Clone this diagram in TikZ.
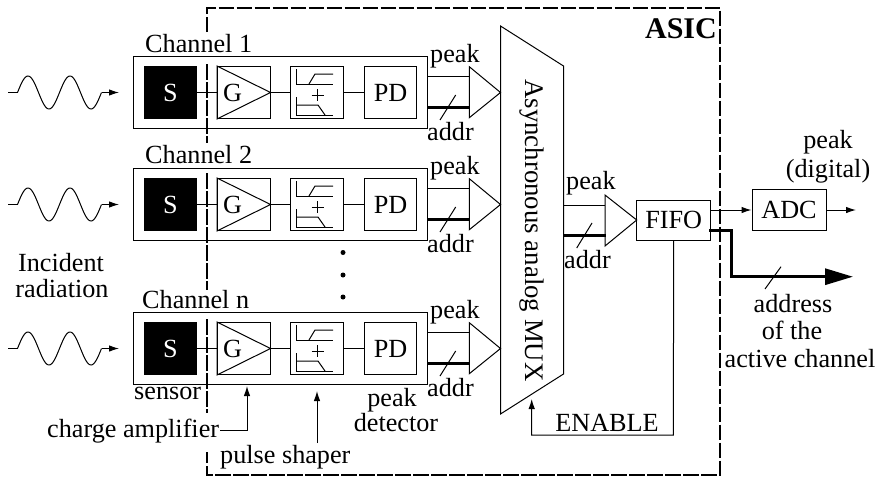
\documentclass[tikz,border=0pt]{standalone}
\usepackage{fontspec}
\setmainfont{Liberation Serif}
\usetikzlibrary{arrows.meta}
\tikzset{
  ln/.style={line width=1pt,black},
  thick line/.style={line width=3pt,black},
  dashline/.style={line width=2pt,dash pattern=on 15.5pt off 2.5pt},
  blockbox/.style={draw,line width=1pt,inner sep=0pt,minimum width=52.5pt,minimum height=52pt},
  sensorbox/.style={blockbox,fill=black,text=white},
  chanbox/.style={draw,line width=1pt,inner sep=0pt,minimum width=293.5pt,minimum height=71.5pt},
  lbl/.style={inner sep=0pt,font=\fontsize{26.2}{30}\selectfont},
  hd/.style={-{Latex[length=10pt,width=6.5pt]}},
  every node/.append style={font=\fontsize{26.2}{30}\selectfont}
}
\begin{document}
\begin{tikzpicture}[x=1pt,y=-1pt]
\useasboundingbox (0,0) rectangle (880,477);
% ASIC boundary
\draw[dashline] (206.5,32) -- (206.5,8) -- (720,8) -- (720,475) -- (206.5,475) -- (206.5,452);
\draw[dashline] (206.5,64) -- (206.5,143);
\draw[dashline] (206.5,173) -- (206.5,290);
\draw[dashline] (206.5,319) -- (206.5,413);
\node[lbl,anchor=base east,font=\fontsize{30}{34}\selectfont\bfseries] (asic) at (717,38) {ASIC};
% channels
\foreach \n/\cy/\txt/\tx/\ty in {1/92.5/Channel 1/145/52, 2/204.5/Channel 2/145/163, 3/348.5/Channel n/142/308}{
  \node[chanbox] (c\n) at (280.25,\cy) {};
  \node[lbl,anchor=base west] (title\n) at (\tx,\ty) {\txt};
  \node[sensorbox] (s\n) at (170.5,\cy) {S};
  \node[blockbox] (g\n) at (243.75,\cy) {};
  \node[blockbox] (sh\n) at (317,\cy) {};
  \node[blockbox] (pd\n) at (390.5,\cy) {PD};
  \draw[ln,line join=miter] (g\n.north west) -- (g\n.south west) -- (g\n.east) -- cycle;
  \node[lbl,anchor=center] (gl\n) at (232.5,\cy) {G};
  \draw[ln] (s\n) -- (g\n);
  \draw[ln] (g\n.east) -- (sh\n);
  \draw[ln] (sh\n) -- (pd\n);
  % shaper icon
  \begin{scope}[shift={(0,\cy)}]
    \draw[ln] (296,-23.5) -- (296,-8.5) -- (333,-8.5);
    \draw[ln] (309,-8.5) -- (315,-18.5) -- (333,-18.5);
    \draw[ln] (296,4.5) -- (296,22.5) -- (333,22.5);
    \draw[ln] (296,12.5) -- (318,12.5) -- (325,22.5);
    \draw[ln] (311.5,2.5) -- (323.5,2.5);
    \draw[ln] (317.5,-3.5) -- (317.5,8.5);
    % incident wave
    \draw[ln] plot[domain=17.5:101.5,samples=90,smooth] ({\x},{-16.5*sin((\x-17.5)/42*360)});
    \coordinate (wa\n) at (8,0);
    \coordinate (wb\n) at (17.5,0);
    \coordinate (wc\n) at (101.5,0);
    \coordinate (wd\n) at (119,0);
    \coordinate (tt\n) at (469.3,-25.8);
    \coordinate (tb\n) at (469.3,25.2);
    \coordinate (tip\n) at (500.5,0);
    \coordinate (pk\n) at (469.3,-15.8);
    \coordinate (ad\n) at (470,14.8);
    \coordinate (sla\n) at (440,27.5);
    \coordinate (slb\n) at (455.7,2.5);
  \end{scope}
  \draw[ln] (wa\n) -- (wb\n);
  \draw[ln,hd] (wc\n) -- (wd\n);
  \draw[ln,line join=miter] (tt\n) -- (tb\n) -- (tip\n) -- cycle;
  \draw[ln] (c\n.east |- pk\n) -- (pk\n);
  \draw[thick line] (c\n.east |- ad\n) -- (ad\n);
  \draw[ln] (sla\n) -- (slb\n);
  \node[lbl,anchor=base west] (peak\n) at (430,{\cy-30.5}) {peak};
  \node[lbl,anchor=base west] (addr\n) at (427,{\cy+47.5}) {addr};
}
% dots
\fill (343,252.5) circle (2.5pt);
\fill (343,275) circle (2.5pt);
\fill (343,297) circle (2.5pt);
% MUX
\coordinate (m1) at (500.5,26);
\coordinate (m2) at (563.5,66);
\coordinate (m3) at (563.5,374);
\coordinate (m4) at (500.5,414);
\draw[ln,line join=miter] (m1) -- (m2) -- (m3) -- (m4) -- cycle;
\node[lbl,rotate=-90,anchor=base,font=\fontsize{26.8}{30}\selectfont] (muxl) at (525,230.5) {Asynchronous analog MUX};
% second stage
\coordinate (t2t) at (605,195);
\coordinate (t2b) at (605,246);
\coordinate (t2tip) at (636.7,220);
\coordinate (p2) at (605,205);
\coordinate (a2) at (606,235.7);
\coordinate (m2p) at (563.5,205);
\coordinate (m2a) at (563,235.7);
\coordinate (sl2a) at (576.7,248);
\coordinate (sl2b) at (592,223);
\draw[ln,line join=miter] (t2t) -- (t2b) -- (t2tip) -- cycle;
\draw[ln] (m2p) -- (p2);
\draw[thick line] (m2a) -- (a2);
\draw[ln] (sl2a) -- (sl2b);
\node[lbl,anchor=base west] (peakm) at (566,189) {peak};
\node[lbl,anchor=base west] (addrm) at (564,268) {addr};
\node[draw,line width=1pt,inner sep=0pt,minimum width=74pt,minimum height=40.5pt] (fifo) at (673.7,220.3) {FIFO};
\node[draw,line width=1pt,inner sep=0pt,minimum width=74pt,minimum height=41pt] (adc) at (789,210) {ADC};
\coordinate (out) at (856,210);
\draw[ln,hd] (fifo.east |- adc) -- (adc);
\draw[ln,hd] (adc) -- (out);
\coordinate (bus0) at (709,230);
\coordinate (bus1) at (731,230);
\coordinate (bus2) at (731,276.7);
\coordinate (bus3) at (853,276.7);
\draw[thick line,line join=miter,-{Triangle[length=28pt,width=16pt]}] (bus0) -- (bus1) -- (bus2) -- (bus3);
\coordinate (sl3a) at (765,289);
\coordinate (sl3b) at (781,266.7);
\draw[ln] (sl3a) -- (sl3b);
\node[lbl,anchor=base] (pkd) at (828,148) {peak};
\node[lbl,anchor=base] (dig) at (828,177) {(digital)};
\node[lbl,anchor=base] (ad1) at (793,312) {address};
\node[lbl,anchor=base] (ad2) at (792,339) {of the};
\node[lbl,anchor=base] (ad3) at (800,367) {active channel};
% enable
\coordinate (en1) at (673.3,435);
\coordinate (en2) at (531.7,435);
\coordinate (en3) at (531.7,399);
\draw[ln,hd] (fifo.south) -- (en1) -- (en2) -- (en3);
\node[lbl,anchor=base] (enl) at (607,431) {ENABLE};
% bottom labels
\node[lbl,anchor=base] (inc) at (61,271) {Incident};
\node[lbl,anchor=base] (rad) at (62,297) {radiation};
\node[lbl,anchor=base west] (sens) at (134,399) {sensor};
\node[lbl,anchor=base west] (ca) at (47,437) {charge amplifier};
\coordinate (ca1) at (247,430);
\coordinate (ca2) at (247,386);
\draw[ln,hd] ([xshift=1pt]ca.east |- ca1) -- (ca1) -- (ca2);
\node[lbl,anchor=base west] (ps) at (220,463) {pulse shaper};
\coordinate (ps1) at (317,443);
\coordinate (ps2) at (317,391);
\draw[ln,hd] (ps1) -- (ps2);
\node[lbl,anchor=base] (pd1l) at (392,406.7) {peak};
\node[lbl,anchor=base] (pd2l) at (396,431.7) {detector};
\end{tikzpicture}
\end{document}
